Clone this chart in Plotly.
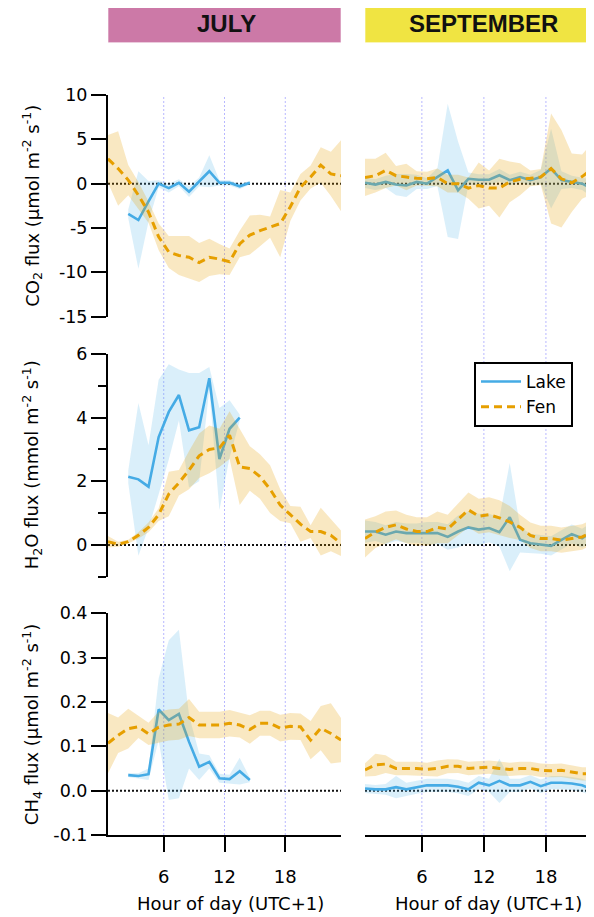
import plotly.graph_objects as go

# ---------------- data ----------------
hours = [0.5, 1.5, 2.5, 3.5, 4.5, 5.5, 6.5, 7.5, 8.5, 9.5, 10.5, 11.5,
         12.5, 13.5, 14.5, 15.5, 16.5, 17.5, 18.5, 19.5, 20.5, 21.5, 22.5, 23.5]
lake_hours_jul = [2.5, 3.5, 4.5, 5.5, 6.5, 7.5, 8.5, 9.5, 10.5, 11.5, 12.5, 13.5, 14.5]
lake_hours_jul_h2o = [2.5, 3.5, 4.5, 5.5, 6.5, 7.5, 8.5, 9.5, 10.5, 11.5, 12.5, 13.5]

# CO2 (umol m-2 s-1)
co2_fen_jul = [2.8, 1.7, 0.4, -1.3, -3.2, -6.0, -7.7, -8.1, -8.3, -8.9, -8.3, -8.5,
               -8.8, -6.8, -5.8, -5.3, -4.9, -4.5, -2.6, -0.4, 0.75, 2.1, 1.1, 0.9]
co2_fen_jul_sd = [2.7, 4.2, 1.7, 1.5, 1.2, 1.5, 1.8, 2.2, 2.4, 2.2, 2.1, 1.7,
                  1.5, 1.5, 2.2, 1.8, 1.2, 3.8, 1.6, 1.5, 1.3, 2.0, 2.5, 4.0]
co2_lake_jul = [-3.4, -4.1, -2.0, 0.0, -0.5, 0.1, -0.9, 0.2, 1.4, 0.1, 0.1, -0.3, 0.1]
co2_lake_jul_sd = [0.5, 5.5, 2.3, 0.4, 0.5, 0.4, 0.6, 0.5, 1.8, 0.3, 0.3, 0.3, 0.2]
co2_lake_sep = [0.1, -0.1, 0.2, -0.1, -0.2, 0.2, 0.0, 0.75, 1.5, -0.75, 0.55, 0.45,
                0.45, 0.95, 0.4, 0.75, 0.4, 0.75, 1.7, 0.4, 0.2, 0.0, -0.55, -0.3]
co2_lake_sep_sd = [0.6, 0.6, 0.7, 1.2, 1.3, 0.8, 0.6, 1.0, 7.5, 5.5, 0.7, 0.6,
                   0.6, 0.7, 0.6, 0.6, 0.6, 0.8, 4.5, 1.0, 0.7, 0.7, 1.0, 1.0]
co2_fen_sep = [0.7, 0.9, 1.5, 0.9, 0.75, 0.6, 0.55, 0.7, 0.0, 0.0, -0.5, -0.2,
               -0.5, -0.5, 0.2, 0.5, 0.6, 0.75, 1.7, 0.55, 0.1, 0.8, 1.7, 1.5]
co2_fen_sep_sd = [2.1, 1.9, 2.0, 1.1, 1.5, 0.8, 0.8, 1.0, 1.0, 1.0, 1.2, 2.6,
                  2.0, 3.3, 2.3, 1.8, 0.9, 0.9, 6.2, 5.5, 3.3, 2.5, 2.9, 3.0]

# H2O (mmol m-2 s-1)
h2o_lake_jul = [2.14, 2.06, 1.83, 3.39, 4.18, 4.71, 3.6, 3.7, 5.24, 2.7, 3.65, 4.0]
h2o_lake_jul_sd = [0.2, 2.4, 1.3, 1.8, 1.5, 0.8, 1.8, 1.7, 0.35, 1.6, 0.9, 0.1]
h2o_fen_jul = [0.1, 0.02, 0.1, 0.3, 0.55, 0.95, 1.6, 1.95, 2.35, 2.8, 3.0, 3.05,
               3.45, 2.45, 2.4, 2.15, 1.75, 1.25, 0.95, 0.65, 0.42, 0.42, 0.3, 0.05]
h2o_fen_jul_sd = [0.18, 0.08, 0.06, 0.1, 0.15, 0.2, 0.7, 0.4, 0.6, 0.7, 0.75, 0.6,
                  0.75, 1.2, 0.7, 0.7, 0.75, 0.5, 0.27, 0.55, 0.2, 0.75, 0.5, 0.4]
h2o_lake_sep = [0.42, 0.42, 0.32, 0.42, 0.37, 0.37, 0.37, 0.37, 0.25, 0.42, 0.55, 0.48,
                0.53, 0.4, 0.87, 0.16, 0.05, 0.02, -0.03, 0.16, 0.34, 0.21, 0.42, 0.45]
h2o_lake_sep_sd = [0.35, 0.3, 0.3, 0.3, 0.3, 0.3, 0.35, 0.35, 0.4, 0.5, 0.5, 0.5,
                   0.45, 0.45, 1.7, 0.4, 0.3, 0.3, 0.3, 0.3, 0.3, 0.3, 0.3, 0.3]
h2o_fen_sep = [0.2, 0.4, 0.55, 0.63, 0.5, 0.42, 0.42, 0.55, 0.5, 0.8, 1.1, 0.9,
               0.95, 0.85, 0.72, 0.55, 0.3, 0.2, 0.2, 0.15, 0.2, 0.25, 0.4, 0.5]
h2o_fen_sep_sd = [0.6, 0.5, 0.5, 0.45, 0.45, 0.45, 0.45, 0.5, 0.45, 0.5, 0.55, 0.55,
                  0.55, 0.55, 0.5, 0.4, 0.4, 0.4, 0.4, 0.4, 0.4, 0.4, 0.4, 0.4]

# CH4 (umol m-2 s-1)
ch4_lake_jul = [0.035, 0.033, 0.037, 0.183, 0.159, 0.173, 0.11, 0.054, 0.065, 0.028, 0.026, 0.044, 0.024]
ch4_lake_jul_sd = [0.004, 0.006, 0.013, 0.07, 0.18, 0.19, 0.06, 0.03, 0.015, 0.01, 0.01, 0.03, 0.005]
ch4_fen_jul = [0.107, 0.125, 0.14, 0.144, 0.128, 0.143, 0.148, 0.15, 0.165, 0.148, 0.148, 0.148,
               0.152, 0.148, 0.138, 0.152, 0.152, 0.141, 0.145, 0.144, 0.114, 0.141, 0.129, 0.114]
ch4_fen_jul_sd = [0.068, 0.04, 0.045, 0.025, 0.025, 0.035, 0.035, 0.035, 0.042, 0.03, 0.03, 0.03,
                  0.03, 0.028, 0.032, 0.028, 0.028, 0.03, 0.03, 0.03, 0.043, 0.05, 0.068, 0.05]
ch4_lake_sep = [0.005, 0.003, 0.003, 0.008, 0.003, 0.008, 0.012, 0.012, 0.012, 0.009, 0.003, 0.018,
                0.012, 0.022, 0.012, 0.012, 0.02, 0.01, 0.018, 0.018, 0.016, 0.012, 0.003, 0.0]
ch4_lake_sep_sd = [0.01, 0.01, 0.012, 0.025, 0.015, 0.015, 0.015, 0.015, 0.015, 0.015, 0.015, 0.015,
                   0.015, 0.05, 0.015, 0.015, 0.015, 0.015, 0.015, 0.015, 0.015, 0.015, 0.015, 0.015]
ch4_fen_sep = [0.047, 0.058, 0.06, 0.05, 0.05, 0.05, 0.048, 0.05, 0.055, 0.055, 0.05, 0.052,
               0.053, 0.05, 0.048, 0.05, 0.05, 0.046, 0.045, 0.046, 0.042, 0.038, 0.038, 0.043]
ch4_fen_sep_sd = [0.015, 0.025, 0.02, 0.015, 0.015, 0.015, 0.015, 0.018, 0.016, 0.015, 0.015, 0.015,
                  0.015, 0.016, 0.015, 0.015, 0.015, 0.015, 0.015, 0.015, 0.015, 0.015, 0.015, 0.015]

# axis ticks / labels
co2_ticks = [-15, -10, -5, 0, 5, 10]
co2_ticktext = ["-15", "-10", "-5", "0", "5", "10"]
h2o_ticks = [0, 2, 4, 6]
h2o_ticktext = ["0", "2", "4", "6"]
h2o_minor = [-1, 1, 3, 5]
ch4_ticks = [-0.1, 0.0, 0.1, 0.2, 0.3, 0.4]
ch4_ticktext = ["-0.1", "0.0", "0.1", "0.2", "0.3", "0.4"]
hour_ticks = [6, 12, 18]
hour_ticktext = ["6", "12", "18"]
month_labels = ["JULY", "SEPTEMBER"]
series_names = ["Lake", "Fen"]
y_titles = ["CO<sub>2</sub> flux (µmol m<sup>-2</sup> s<sup>-1</sup>)",
            "H<sub>2</sub>O flux (mmol m<sup>-2</sup> s<sup>-1</sup>)",
            "CH<sub>4</sub> flux (µmol m<sup>-2</sup> s<sup>-1</sup>)"]
x_title = "Hour of day (UTC+1)"

# ---------------- style ----------------
LAKE = "#45ABE5"
FEN = "#E69F00"
LAKE_FILL = "rgba(86,180,233,0.22)"
FEN_FILL = "rgba(230,159,0,0.24)"
FONT = "DejaVu Sans"

# the page body has an 8px margin: the figure is sized to fit in the window
OFF = 8
W, H = 594 - OFF, 917 - OFF
# plot area in reference-window pixels: x 108..594, y 95..835
ML, MR, MT, MB = 108 - OFF, 0, 95 - OFF, (917 - OFF) - (835 - OFF)
PW, PH = W - ML - MR, H - MT - MB


def px_x(p):  # reference window pixel -> paper x
    return (p - OFF - ML) / PW


def px_y(p):  # reference window pixel -> paper y
    return 1 - (p - OFF - MT) / PH


col_dom = [[0, px_x(341)], [px_x(365), 1]]
row_dom = [[px_y(316.7), 1], [px_y(576.7), px_y(354)], [0, px_y(613.3)]]
xranges = [[0.5, 23.5], [0.5, 22.65]]
yranges = [[-15, 10], [-1, 6], [-0.1, 0.4]]

fig = go.Figure()


def axnames(r, c):
    k = r * 2 + c + 1
    return ("x" if k == 1 else f"x{k}"), ("y" if k == 1 else f"y{k}")


def add_band(r, c, x, m, s, fill):
    xa, ya = axnames(r, c)
    up = [a + b for a, b in zip(m, s)]
    lo = [a - b for a, b in zip(m, s)]
    fig.add_trace(go.Scatter(x=list(x) + list(x)[::-1], y=up + lo[::-1], fill="toself",
                             fillcolor=fill, line=dict(width=0), mode="lines",
                             hoverinfo="skip", showlegend=False, xaxis=xa, yaxis=ya))


def add_line(r, c, x, m, color, dash, width, name, show):
    xa, ya = axnames(r, c)
    fig.add_trace(go.Scatter(x=x, y=m, mode="lines", name=name, legendgroup=name,
                             showlegend=show,
                             line=dict(color=color, width=width, dash=dash),
                             xaxis=xa, yaxis=ya))


panels = [
    [(lake_hours_jul, co2_lake_jul, co2_lake_jul_sd, hours, co2_fen_jul, co2_fen_jul_sd),
     (hours, co2_lake_sep, co2_lake_sep_sd, hours, co2_fen_sep, co2_fen_sep_sd)],
    [(lake_hours_jul_h2o, h2o_lake_jul, h2o_lake_jul_sd, hours, h2o_fen_jul, h2o_fen_jul_sd),
     (hours, h2o_lake_sep, h2o_lake_sep_sd, hours, h2o_fen_sep, h2o_fen_sep_sd)],
    [(lake_hours_jul, ch4_lake_jul, ch4_lake_jul_sd, hours, ch4_fen_jul, ch4_fen_jul_sd),
     (hours, ch4_lake_sep, ch4_lake_sep_sd, hours, ch4_fen_sep, ch4_fen_sep_sd)],
]

first = True
for r in range(3):
    for c in range(2):
        lx, lm, ls, fx, fm, fs = panels[r][c]
        add_band(r, c, lx, lm, ls, LAKE_FILL)
        add_line(r, c, lx, lm, LAKE, "solid", 2.6, series_names[0], first)
        add_band(r, c, fx, fm, fs, FEN_FILL)
        add_line(r, c, fx, fm, FEN, "8px,5px", 3, series_names[1], first)
        first = False

layout = dict(width=W, height=H, margin=dict(l=ML, r=MR, t=MT, b=MB, pad=0),
              paper_bgcolor="white", plot_bgcolor="rgba(0,0,0,0)",
              font=dict(family=FONT, size=17, color="black"),
              showlegend=True)

ytickinfo = [(co2_ticks, co2_ticktext), (h2o_ticks, h2o_ticktext), (ch4_ticks, ch4_ticktext)]
for r in range(3):
    for c in range(2):
        k = r * 2 + c + 1
        xk = "xaxis" if k == 1 else f"xaxis{k}"
        yk = "yaxis" if k == 1 else f"yaxis{k}"
        xa, ya = axnames(r, c)
        xd = dict(domain=col_dom[c], range=xranges[c], anchor=ya, showgrid=False,
                  zeroline=False, fixedrange=True)
        if r == 2:
            xd.update(showline=True, linecolor="black", linewidth=2, ticks="outside",
                      ticklen=15, tickwidth=2, tickcolor="black", tickmode="array",
                      tickvals=hour_ticks, ticktext=hour_ticktext,
                      tickfont=dict(family=FONT, size=18), ticklabelstandoff=9)
        else:
            xd.update(visible=False)
        yd = dict(domain=row_dom[r], range=yranges[r], anchor=xa, showgrid=False,
                  zeroline=False, fixedrange=True)
        if c == 0:
            tv, tt = ytickinfo[r]
            yd.update(showline=True, linecolor="black", linewidth=2, ticks="outside",
                      ticklen=15, tickwidth=2, tickcolor="black", tickmode="array",
                      tickvals=tv, ticktext=tt, tickfont=dict(family=FONT, size=17.5),
                      ticklabelstandoff=0)
            if r == 1:
                yd.update(minor=dict(tickmode="array", tickvals=h2o_minor, ticks="outside",
                                     ticklen=8, tickwidth=2, tickcolor="black"))
        else:
            yd.update(visible=False)
        layout[xk] = xd
        layout[yk] = yd

shapes = []
annotations = []
# zero reference lines
for r in range(3):
    for c in range(2):
        xa, ya = axnames(r, c)
        shapes.append(dict(type="line", xref=f"{xa} domain", x0=0, x1=1, yref=ya, y0=0, y1=0,
                           line=dict(color="#111111", width=2, dash="2px,2px"), layer="below"))
# vertical hour guides
for c in range(2):
    xa, _ = axnames(2, c)
    for h in hour_ticks:
        shapes.append(dict(type="line", xref=xa, x0=h, x1=h, yref="paper", y0=0, y1=1,
                           line=dict(color="#B8B8FF", width=1, dash="2px,2px"), layer="below"))
# month header boxes
hdr_colors = ["#CC79A7", "#F0E442"]
hdr_x = [(108, 341), (365, 610)]
hdr_txt_x = [226, 483.5]
for i in range(2):
    shapes.append(dict(type="rect", xref="paper", yref="paper",
                       x0=px_x(hdr_x[i][0]), x1=px_x(hdr_x[i][1]),
                       y0=px_y(42.7), y1=px_y(5), fillcolor=hdr_colors[i],
                       line=dict(color="rgba(255,255,255,0.6)", width=1), layer="above"))
    annotations.append(dict(text=f"<b>{month_labels[i]}</b>", xref="paper", yref="paper",
                            x=px_x(hdr_txt_x[i]), y=px_y(23), showarrow=False,
                            xanchor="center", yanchor="middle",
                            font=dict(family="Liberation Sans", size=24, color="#111111")))
# y titles
for r in range(3):
    yc = (row_dom[r][0] + row_dom[r][1]) / 2
    annotations.append(dict(text=y_titles[r], xref="paper", yref="paper", x=px_x(32), y=yc,
                            textangle=-90, showarrow=False, xanchor="center", yanchor="middle",
                            font=dict(family=FONT, size=18)))
# x titles
for xpx in [230, 488]:
    annotations.append(dict(text=x_title, xref="paper", yref="paper", x=px_x(xpx), y=px_y(903),
                            showarrow=False, xanchor="center", yanchor="middle",
                            font=dict(family=FONT, size=18)))

layout["shapes"] = shapes
layout["annotations"] = annotations
layout["legend"] = dict(x=px_x(474), y=px_y(362), xanchor="left", yanchor="top",
                        bordercolor="black", borderwidth=2, bgcolor="white",
                        font=dict(family=FONT, size=17), tracegroupgap=0,
                        itemwidth=40)
fig.update_layout(**layout)

fig.write_html("out.html")
